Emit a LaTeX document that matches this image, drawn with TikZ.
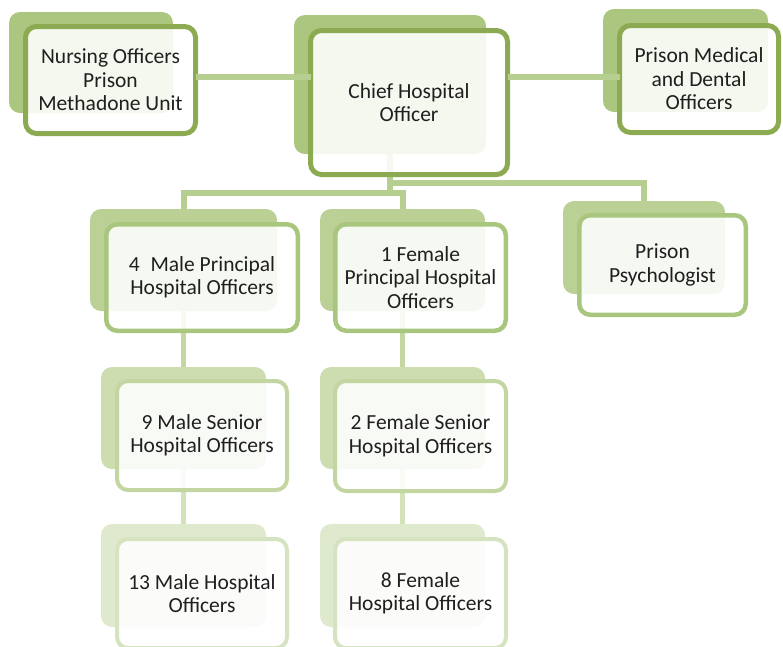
\documentclass[tikz,border=0pt]{standalone}
\usepackage{fontspec}
\setmainfont{Carlito}
\definecolor{b0}{HTML}{ABC67F}
\definecolor{f0}{HTML}{8CAA52}
\definecolor{c0}{HTML}{B6CE8F}
\definecolor{b1}{HTML}{BBD095}
\definecolor{f1}{HTML}{A9C67E}
\definecolor{c1}{HTML}{C4D7A2}
\definecolor{b2}{HTML}{CDDDAF}
\definecolor{f2}{HTML}{C3D6A1}
\definecolor{c2}{HTML}{D3E2B9}
\definecolor{b3}{HTML}{DFE9CE}
\definecolor{f3}{HTML}{D6E3C0}
\begin{document}
\begin{tikzpicture}[x=1pt,y=-1pt,
  backbox/.style={fill=#1, draw=none, rounded corners=11pt, inner sep=0pt, outer sep=0pt},
  frontbox/.style={draw=#1, fill=white, fill opacity=0.88, text opacity=1, rounded corners=11pt,
    inner sep=0pt, outer sep=0pt, align=center, font=\fontsize{21.5}{23.5}\selectfont, text=black!88},
  conn/.style={draw=#1, line width=6pt},
  connb/.style={draw=#1, line width=5pt}]
\useasboundingbox (0,0) rectangle (783,646);

% back boxes
\node[backbox=b0, minimum width=164pt, minimum height=101pt] (nob) at (91,62.5) {};
\node[backbox=b0, minimum width=192pt, minimum height=139pt] (chb) at (390,84.5) {};
\node[backbox=b0, minimum width=165pt, minimum height=103pt] (mdb) at (685.5,60.5) {};
\node[backbox=b1, minimum width=187pt, minimum height=102pt] (mpb) at (183.5,260) {};
\node[backbox=b1, minimum width=165pt, minimum height=102pt] (fpb) at (402.5,260) {};
\node[backbox=b1, minimum width=162pt, minimum height=93pt] (psb) at (644,247.5) {};
\node[backbox=b2, minimum width=165pt, minimum height=102pt] (msb) at (183.5,418) {};
\node[backbox=b2, minimum width=165pt, minimum height=102pt] (fsb) at (402.5,418) {};
\node[backbox=b3, minimum width=165pt, minimum height=103pt] (mhb) at (183.5,575.5) {};
\node[backbox=b3, minimum width=165pt, minimum height=103pt] (fhb) at (402.5,575.5) {};

% connectors
\coordinate (hy) at (0,77);
\coordinate (j1) at (390,183);
\coordinate (j2) at (390,193);
\draw[conn=c0] (chb.south) -- (j2);
\draw[conn=c0] (j1) -| (psb.north);
\draw[conn=c0] (mpb.north) |- (j2) -| (fpb.north);
\draw[connb=c1] (mpb.south) -- (msb.north);
\draw[connb=c1] (fpb.south) -- (fsb.north);
\draw[connb=c2] (msb.south) -- (mhb.north);
\draw[connb=c2] (fsb.south) -- (fhb.north);

% front boxes
\node[frontbox=f0, line width=5pt, minimum width=170pt, minimum height=107pt] (nof) at (110.5,80)
  {Nursing Officers\\Prison\\Methadone Unit};
\node[frontbox=f0, line width=5pt, minimum width=197pt, minimum height=144pt] (chf) at (409,102.5)
  {Chief Hospital\\Officer};
\node[frontbox=f0, line width=5pt, minimum width=159pt, minimum height=107pt] (mdf) at (699,79)
  {Prison Medical\\and Dental\\Officers};
\node[frontbox=f1, line width=4.5pt, minimum width=191.5pt, minimum height=106.5pt] (mpf) at (202,277.5)
  {4\enspace Male Principal\\Hospital Officers};
\node[frontbox=f1, line width=4.5pt, minimum width=170.5pt, minimum height=106.5pt] (fpf) at (420.5,277.5)
  {1 Female\\Principal Hospital\\Officers};
\node[frontbox=f1, line width=4.5pt, minimum width=166.5pt, minimum height=99.5pt] (psf) at (662.5,265)
  {Prison\\Psychologist};
\node[frontbox=f2, line width=4pt, minimum width=170pt, minimum height=109pt] (msf) at (202,435.5)
  {9 Male Senior\\Hospital Officers};
\node[frontbox=f2, line width=4pt, minimum width=171pt, minimum height=110pt] (fsf) at (420.5,436)
  {2 Female Senior\\Hospital Officers};
\node[frontbox=f3, line width=4pt, minimum width=170pt, minimum height=109pt] (mhf) at (202,593.5)
  {13 Male Hospital\\Officers};
\node[frontbox=f3, line width=4pt, minimum width=171pt, minimum height=109pt] (fhf) at (420.5,593.5)
  {8 Female\\Hospital Officers};

% side connectors
\draw[conn=c0] (nof.east |- hy) -- (chf.west |- hy);
\draw[conn=c0] (chf.east |- hy) -- (mdf.west |- hy);
\end{tikzpicture}
\end{document}
